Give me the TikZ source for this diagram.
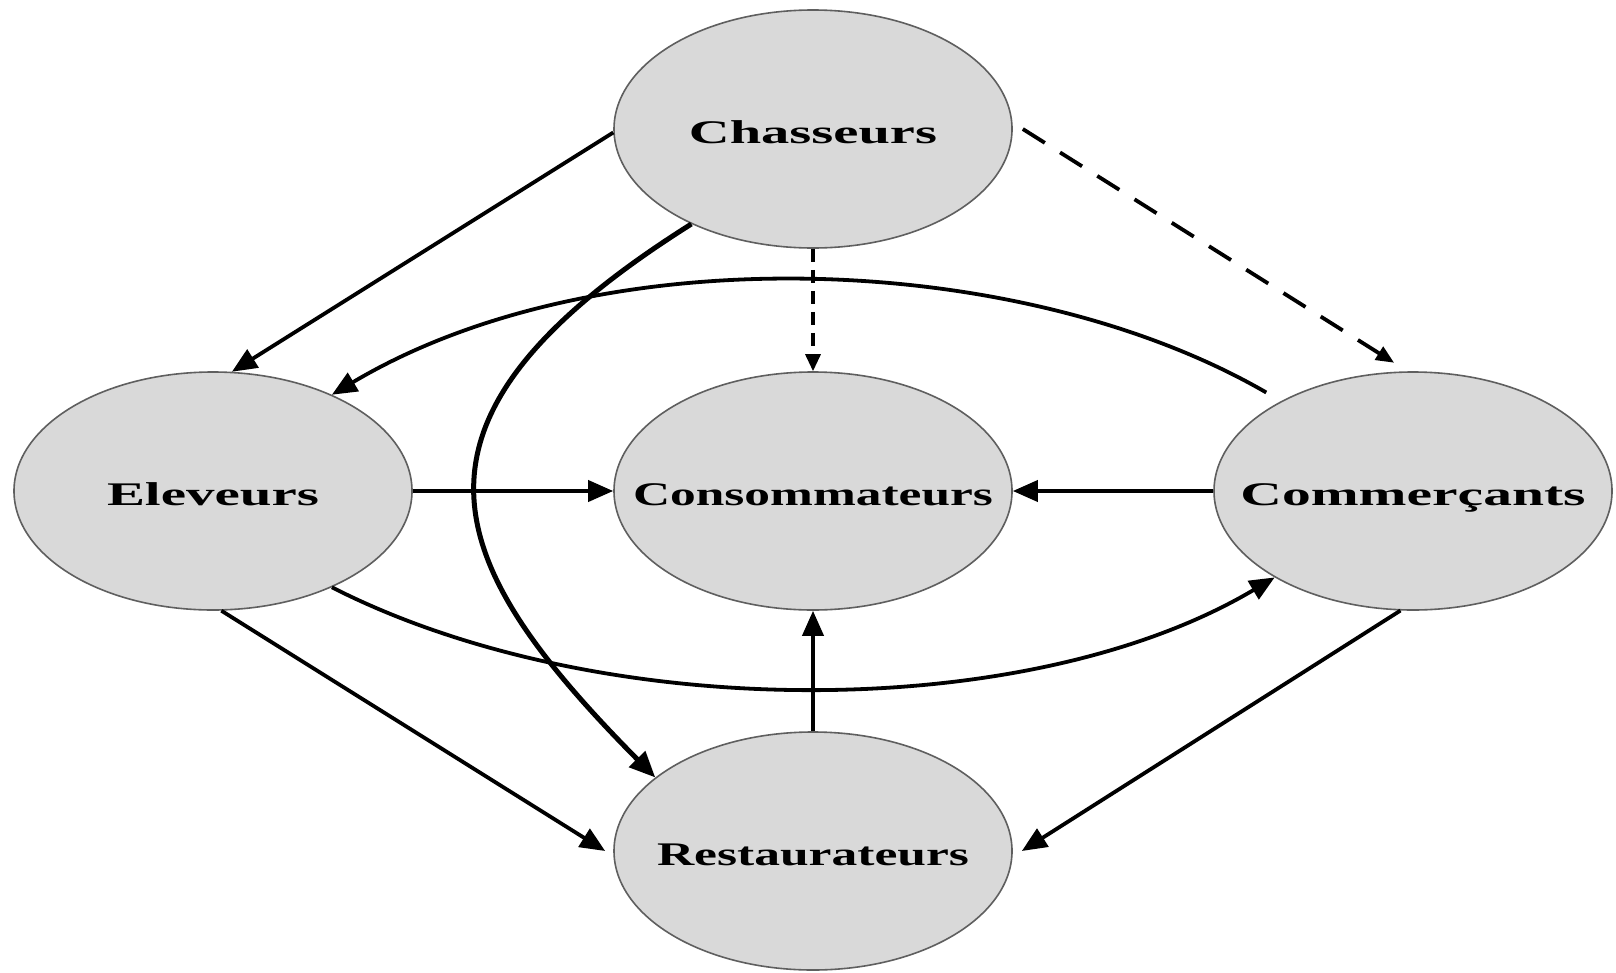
\documentclass[tikz,border=0pt]{standalone}
\usepackage{fontspec}
\setmainfont{Liberation Serif}
\usetikzlibrary{arrows.meta,shapes.geometric,calc}
\definecolor{ellfill}{RGB}{217,217,217}
\definecolor{elldraw}{RGB}{95,95,95}
\newcommand{\lbl}[2]{\makebox[0pt]{\resizebox{#1}{\height}{#2}}}
\begin{document}
\begin{tikzpicture}[x=1pt,y=-1pt,
  actor/.style={ellipse, draw=elldraw, line width=1.6pt, fill=ellfill,
    minimum width=398pt, minimum height=238pt, inner sep=0pt,
    text height=28pt, text depth=0pt,
    font=\bfseries\fontsize{33}{36}\selectfont},
  flow/.style={line width=3.8pt, -{Triangle[length=25pt,width=21pt]}},
  thickflow/.style={line width=5pt, -{Triangle[length=26pt,width=22pt]}},
  dflow/.style={line width=3.8pt, dash pattern=on 26pt off 18pt, -{Triangle[length=18pt,width=15pt]}},
  vflow/.style={line width=3.2pt, dash pattern=on 13pt off 8pt, -{Triangle[length=17pt,width=15pt]}}
]
\useasboundingbox[fill=white] (0,0) rectangle (1616,972);

\node[actor] (ch) at (813,129) {\lbl{248pt}{Chasseurs}};
\node[actor] (el) at (213,491) {\lbl{212pt}{Eleveurs}};
\node[actor] (co) at (813,491) {\lbl{360pt}{Consommateurs}};
\node[actor] (cm) at (1413,491) {\lbl{345pt}{Commerçants}};
\node[actor] (re) at (813,851) {\lbl{312pt}{Restaurateurs}};

\draw[flow] (ch.181) -- (el.81);
\draw[thickflow] (ch.218) .. controls (380,420) and (440,560) .. (re.155);
\draw[vflow] (ch.south) -- (co.north);
\draw[dflow] ([xshift=10pt]ch.east) -- ([yshift=9pt]cm.99);
\draw[flow] ([shift={(-14pt,9pt)}]cm.146) .. controls (1020,250) and (600,235) .. (el.39);
\draw[flow] (el) -- (co);
\draw[flow] (cm) -- (co);
\draw[flow] (el.-39) .. controls (600,724) and (1028,724) .. (cm.212);
\draw[flow] (el.-86) -- ([xshift=-8pt]re.west);
\draw[flow] (re) -- (co);
\draw[flow] (cm.-96) -- ([xshift=9pt]re.east);
\end{tikzpicture}
\end{document}
